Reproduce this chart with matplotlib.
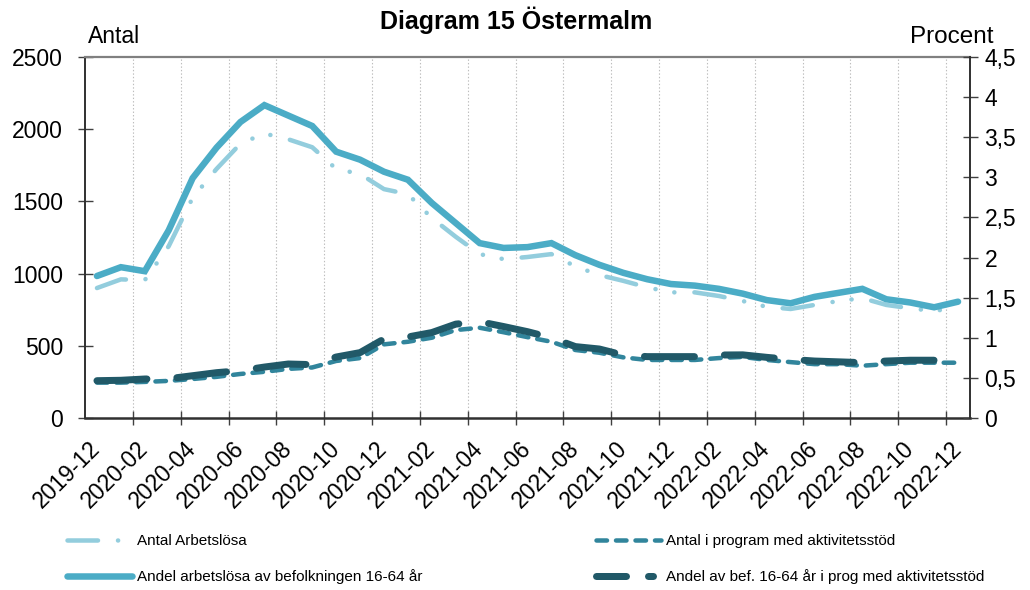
import matplotlib
matplotlib.use('Agg')
import matplotlib.pyplot as plt
from matplotlib.lines import Line2D
import numpy as np

plt.rcParams['font.family'] = ['Liberation Sans', 'DejaVu Sans']
plt.rcParams['lines.scale_dashes'] = False

# ---------------- data ----------------
months = ['2019-12', '2020-01', '2020-02', '2020-03', '2020-04', '2020-05', '2020-06',
          '2020-07', '2020-08', '2020-09', '2020-10', '2020-11', '2020-12', '2021-01',
          '2021-02', '2021-03', '2021-04', '2021-05', '2021-06', '2021-07', '2021-08',
          '2021-09', '2021-10', '2021-11', '2021-12', '2022-01', '2022-02', '2022-03',
          '2022-04', '2022-05', '2022-06', '2022-07', '2022-08', '2022-09', '2022-10',
          '2022-11', '2022-12']

antal_arbetslosa = [900, 960, 955, 1190, 1525, 1725, 1900, 1970, 1930, 1875, 1725, 1690,
                    1585, 1550, 1385, 1255, 1135, 1100, 1115, 1135, 1050, 990, 950, 905,
                    870, 870, 845, 810, 770, 755, 783, 810, 830, 783, 760, 740, 770]

andel_arbetslosa = [1.77, 1.88, 1.83, 2.34, 2.99, 3.37, 3.69, 3.90, 3.77, 3.64, 3.32, 3.22,
                    3.07, 2.97, 2.68, 2.43, 2.18, 2.12, 2.13, 2.18, 2.03, 1.91, 1.81, 1.73,
                    1.67, 1.65, 1.61, 1.55, 1.47, 1.43, 1.51, 1.56, 1.61, 1.48, 1.44, 1.38,
                    1.45]

antal_program = [245, 245, 250, 257, 270, 285, 305, 320, 340, 350, 395, 415, 510, 528, 556,
                 609, 625, 594, 560, 528, 471, 452, 420, 402, 402, 402, 415, 423, 402, 387,
                 373, 373, 362, 373, 383, 383, 383]

andel_program = [0.465, 0.47, 0.486, 0.49, 0.527, 0.565, 0.59, 0.635, 0.673, 0.665, 0.76,
                 0.815, 0.985, 1.01, 1.065, 1.17, 1.20, 1.14, 1.076, 1.0, 0.89, 0.86, 0.785,
                 0.765, 0.765, 0.765, 0.785, 0.787, 0.756, 0.73, 0.71, 0.70, 0.69, 0.71,
                 0.72, 0.72, 0.72]

left_ticks = [0, 500, 1000, 1500, 2000, 2500]
right_ticks = [0, 0.5, 1, 1.5, 2, 2.5, 3, 3.5, 4, 4.5]
right_labels = ['0', '0,5', '1', '1,5', '2', '2,5', '3', '3,5', '4', '4,5']

labels = ['Antal Arbetslösa', 'Andel arbetslösa av befolkningen 16-64 år',
          'Antal i program med aktivitetsstöd',
          'Andel av bef. 16-64 år i prog med aktivitetsstöd']

# ---------------- styles ----------------
PX = 0.72  # points per pixel at 100 dpi
c_light = '#93CDDD'
c_mid = '#4BACC6'
c_teal = '#31859C'
c_dark = '#215968'

lw_light = 4.5 * PX
lw_mid = 6.5 * PX
lw_teal = 4.5 * PX
lw_dark = 7.0 * PX

d_light = (0, (30.5 * PX, 20 * PX, 0.1, 19 * PX, 0.1, 20 * PX))
d_teal = (0, (10.5 * PX, 9 * PX))
d_dark = (0, (50 * PX, 30 * PX))
d_dark_leg = (0, (30 * PX, 22 * PX, 5 * PX, 22 * PX))

fig = plt.figure(figsize=(10.3, 5.9), dpi=100)
ax1 = fig.add_axes([85 / 1030, 1 - 418 / 590, 885 / 1030, 361 / 590])
ax2 = ax1.twinx()

x = np.arange(len(months))

ax1.plot(x, antal_arbetslosa, color=c_light, lw=lw_light, linestyle=d_light,
         dash_capstyle='round', solid_joinstyle='round', dash_joinstyle='round')
ax1.plot(x, antal_program, color=c_teal, lw=lw_teal, linestyle=d_teal,
         dash_capstyle='round', dash_joinstyle='round')
ax2.plot(x, andel_arbetslosa, color=c_mid, lw=lw_mid, solid_capstyle='round',
         solid_joinstyle='miter')
ax2.plot(x, andel_program, color=c_dark, lw=lw_dark, linestyle=d_dark,
         dash_capstyle='round', dash_joinstyle='round')

# axes limits
ax1.set_xlim(-0.5, len(months) - 0.5)
ax1.set_ylim(0, 2500)
ax2.set_ylim(0, 4.5)

# y ticks
ax1.set_yticks(left_ticks)
ax1.set_yticklabels([str(v) for v in left_ticks])
ax2.set_yticks(right_ticks)
ax2.set_yticklabels(right_labels)
ax1.tick_params(axis='y', direction='inout', length=10.8, width=1, color='#404040',
                labelsize=16.5, pad=10.4)
ax2.tick_params(axis='y', direction='inout', length=10.8, width=1, color='#404040',
                labelsize=16.5, pad=5.0)

# x ticks: major at category boundaries (grid + marks), minor at centers (labels)
ax1.set_xticks(np.arange(1.5, len(months) - 1, 2))
ax1.set_xticklabels([])
ax1.set_xticks(x[::2], minor=True)
ax1.set_xticklabels(months[::2], minor=True, rotation=45, ha='right', va='center',
                    rotation_mode='anchor')
ax1.tick_params(axis='x', which='major', direction='inout', length=10, width=1,
                color='#404040')
ax1.tick_params(axis='x', which='minor', length=0, pad=19.4, labelsize=16.5)
ax1.grid(axis='x', which='major', color='#bdbdbd', linestyle=(0, (1, 1.5)), lw=0.8)
ax1.set_axisbelow(True)

# spines
for ax in (ax1, ax2):
    for s in ax.spines.values():
        s.set_visible(False)
ax1.spines['left'].set_visible(True)
ax1.spines['bottom'].set_visible(True)
ax1.spines['top'].set_visible(True)
ax2.spines['right'].set_visible(True)
ax1.spines['left'].set_color('#303030')
ax1.spines['bottom'].set_color('#303030')
ax2.spines['right'].set_color('#303030')
ax1.spines['left'].set_linewidth(1.4)
ax1.spines['bottom'].set_linewidth(1.8)
ax2.spines['right'].set_linewidth(1.4)
ax1.spines['top'].set_color('#808080')
ax1.spines['top'].set_linewidth(1.6)

# texts
fig.text(516 / 1030, 1 - 29 / 590, 'Diagram 15 Östermalm', fontsize=18,
         fontweight='bold', ha='center', va='baseline')
fig.text(88 / 1030, 1 - 43 / 590, 'Antal', fontsize=16.5, ha='left', va='baseline')
fig.text(993 / 1030, 1 - 43 / 590, 'Procent', fontsize=17.5, ha='right', va='baseline')

# legends
h1 = Line2D([], [], color=c_light, lw=lw_light, linestyle=d_light, dash_capstyle='round')
h2 = Line2D([], [], color=c_mid, lw=lw_mid, solid_capstyle='round')
h3 = Line2D([], [], color=c_teal, lw=lw_teal, linestyle=d_teal, dash_capstyle='round')
h4 = Line2D([], [], color=c_dark, lw=lw_dark, linestyle=d_dark_leg, dash_capstyle='round')

leg_kw = dict(loc='upper left', frameon=False, borderpad=0, borderaxespad=0,
              fontsize=11, handlelength=4.25, handletextpad=0.35, labelspacing=1.4)
fig.legend([h1, h2], labels[:2], bbox_to_anchor=(67 / 1030, 1 - 534 / 590), **leg_kw)
fig.legend([h3, h4], labels[2:], bbox_to_anchor=(596 / 1030, 1 - 534 / 590), **leg_kw)

fig.savefig('out.png', dpi=100)
